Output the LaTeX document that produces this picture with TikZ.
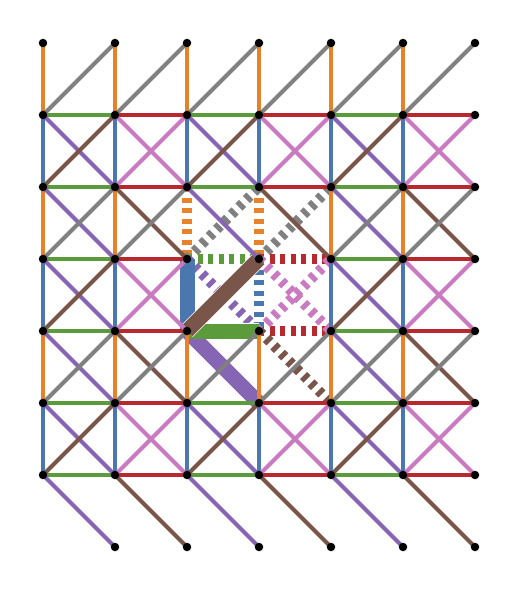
\documentclass[tikz,border=0pt]{standalone}

\definecolor{latOrange}{HTML}{E8822A}
\definecolor{latBlue}{HTML}{4A78AE}
\definecolor{latGreen}{HTML}{5C9B3B}
\definecolor{latRed}{HTML}{B8282E}
\definecolor{latPurple}{HTML}{8765B5}
\definecolor{latBrown}{HTML}{7A564A}
\definecolor{latPink}{HTML}{C97AC0}
\definecolor{latGrey}{HTML}{808080}

\begin{document}
\begin{tikzpicture}[x=72pt, y=-72pt, line width=4pt,
  dot/.style={circle, fill=black, inner sep=0pt, minimum size=8.5pt},
  hl/.style={line width=10pt, dash pattern=on 5pt off 5.5pt},
  bold/.style={line width=15pt, preaction={draw=white, line width=16.5pt}}]

  \useasboundingbox (-43pt,43pt) rectangle (476pt,-548pt);

  % lattice sites
  \foreach \i in {0,...,6}
    \foreach \j in {0,...,7}
      \coordinate (v\i\j) at (\i,\j);

  % dashed bonds around the cell
  \draw[hl, latOrange] (v22) -- (v23) (v32) -- (v33);
  \draw[hl, latGrey] (v23) -- (v32) (v33) -- (v42);
  \draw[hl, latGreen] (v23) -- (v33);
  \draw[hl, latRed] (v33) -- (v43) (v34) -- (v44);
  \draw[hl, latBlue] (v33) -- (v34);
  \draw[hl, latPurple] (v23) -- (v34);
  \draw[hl, latPink] (v33) -- (v44) (v34) -- (v43);
  \draw[hl, latBrown] (v34) -- (v45);

  % bonds of the cell
  \draw[bold, latPurple] (v24) -- (v35);
  \draw[bold, latBlue] (v23) -- (v24);
  \draw[bold, latGreen] (v24) -- (v34);
  \draw[bold, latBrown] (v24) -- (v33);

  % vertical bonds
  \foreach \i in {0,...,5} {
    \foreach \j [evaluate=\j as \k using int(\j+1)] in {0,...,5} {
      \pgfmathtruncatemacro\hide{(\i>1)&&(\i<4)&&(\j>1)&&(\j<4)}
      \ifodd\j \def\col{latBlue}\else\def\col{latOrange}\fi
      \ifnum\hide=0 \draw[\col] (v\i\j) -- (v\i\k); \fi
    }
  }

  % horizontal bonds
  \foreach \j in {1,...,6} {
    \foreach \i [evaluate=\i as \k using int(\i+1)] in {0,...,5} {
      \pgfmathtruncatemacro\hide{(\i>1)&&(\i<4)&&(\j>2)&&(\j<5)}
      \ifodd\i \def\col{latRed}\else\def\col{latGreen}\fi
      \ifnum\hide=0 \draw[\col] (v\i\j) -- (v\k\j); \fi
    }
  }

  % diagonals down to the right
  \foreach \b [evaluate=\b as \bb using int(\b+1)] in {1,...,6} {
    \foreach \i [evaluate=\i as \k using int(\i+1)] in {0,...,5} {
      \pgfmathtruncatemacro\hide{(\i>1)&&(\i<4)&&(\b>2)&&(\b<5)}
      \ifodd\i \ifodd\b \def\col{latPink}\else\def\col{latBrown}\fi
      \else\def\col{latPurple}\fi
      \ifnum\hide=0 \draw[\col] (v\i\b) -- (v\k\bb); \fi
    }
  }

  % diagonals up to the right
  \foreach \b [evaluate=\b as \bb using int(\b+1)] in {0,...,5} {
    \foreach \i [evaluate=\i as \k using int(\i+1)] in {0,...,5} {
      \pgfmathtruncatemacro\hide{(\i>1)&&(\i<4)&&(\b>1)&&(\b<4)}
      \ifodd\b \ifodd\i \def\col{latPink}\else\def\col{latBrown}\fi
      \else\def\col{latGrey}\fi
      \ifnum\hide=0 \draw[\col] (v\i\bb) -- (v\k\b); \fi
    }
  }

  % sites
  \foreach \i in {0,...,6} {
    \foreach \j in {0,...,7} {
      \pgfmathtruncatemacro\hide{(\i==0)&&(\j==7)}
      \ifnum\hide=0 \node[dot] (s\i\j) at (v\i\j) {}; \fi
    }
  }

\end{tikzpicture}
\end{document}
